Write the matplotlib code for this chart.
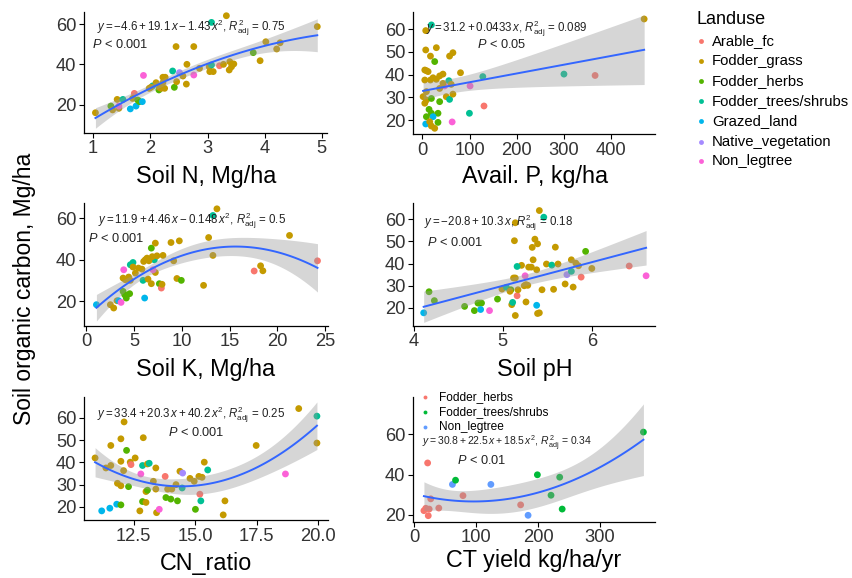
import numpy as np
import matplotlib
matplotlib.use("Agg")
import matplotlib.pyplot as plt
from matplotlib.lines import Line2D

plt.rcParams['font.family'] = ['Liberation Sans', 'DejaVu Sans']
plt.rcParams['mathtext.fontset'] = 'custom'
plt.rcParams['mathtext.rm'] = 'Liberation Sans'
plt.rcParams['mathtext.it'] = 'Liberation Sans:italic'
plt.rcParams['mathtext.bf'] = 'Liberation Sans:bold'

# ---------------- data ----------------
landuse_levels = ["Arable_fc", "Fodder_grass", "Fodder_herbs", "Fodder_trees/shrubs",
                  "Grazed_land", "Native_vegetation", "Non_legtree"]
landuse_codes = ["A", "G", "H", "T", "L", "N", "P"]
landuse_colors = ["#F8766D", "#C49A00", "#53B400", "#00C094", "#00B6EB", "#A58AFF", "#FB61D7"]

ct_levels = ["Fodder_herbs", "Fodder_trees/shrubs", "Non_legtree"]
ct_codes = ["H", "T", "P"]
ct_colors = ["#F8766D", "#00BA38", "#619CFF"]

soilN_x = [1.04, 1.31, 1.34, 1.42, 1.45, 1.45, 1.52, 1.65, 1.72, 1.75, 1.69, 1.78, 1.81, 1.86, 1.88,
           1.98, 2.04, 2.10, 2.15, 2.19, 2.22, 2.26, 2.25, 2.39, 2.42, 2.45, 2.46, 2.51, 2.57, 2.63,
           2.64, 2.76, 2.76, 2.86, 3.07, 3.03, 3.04, 3.10, 3.07, 3.21, 3.28, 3.33, 3.39, 3.38, 3.42,
           3.46, 3.80, 3.92, 4.02, 4.21, 4.27, 4.92, 2.01, 2.16, 2.22]
soilN_y = [16.0, 19.3, 17.4, 22.6, 18.2, 19.3, 22.6, 17.9, 25.6, 19.3, 23.1, 22.3, 21.5, 21.5, 34.5,
           28.1, 29.3, 30.9, 27.3, 28.1, 33.6, 33.6, 28.1, 36.7, 28.6, 48.8, 31.4, 35.9, 34.2, 30.2,
           40.0, 48.8, 34.7, 38.0, 60.8, 38.8, 36.4, 36.4, 39.7, 39.3, 40.0, 64.1, 41.3, 37.2, 38.8,
           40.2, 45.8, 41.8, 51.2, 47.6, 50.7, 58.7, 28.6, 28.6, 30.9]
soilN_lu = list("GHGGGPTLALGHHLPGTGHGGGGTHGGNGGGGPGTGGGTAGGGGGGHGGGGGGGG")

availP_x = [19, 7, 7, 17, 29.5, 26, 57.5, 64.6, 5, 8.4, 12, 80.7, 43.5, 36.5, 22.5, 5, 17, 29.5, 56,
            47, 61, 101, 128, 300, 366, 1.4, 8.4, 19, 36.5, 50.5, 57.5, 64.6, 5, 14, 19, 33, 22.5,
            8.4, 7, 15.4, 33, 19, 26, 63, 99.6, 130.5, 470, 43.5, 36.5, 8.4]
availP_y = [61.8, 59.3, 50.8, 48.1, 51.8, 45.7, 48.1, 49.6, 42.0, 41.7, 41.3, 40.8, 40.2, 39.4, 38.6,
            37.6, 37.6, 37.9, 37.3, 35.0, 35.7, 35.0, 39.1, 40.2, 39.6, 30.3, 28.8, 29.5, 28.1, 30.3,
            29.1, 31.4, 27.4, 24.7, 23.0, 23.0, 21.5, 21.5, 18.3, 19.3, 19.0, 17.4, 16.4, 19.2, 23.0,
            26.2, 64.4, 36.1, 33.9, 32.5]
availP_lu = list("TGGGGHGGGGGGGGGGGGTPGPTTAGGHHGTGGHHHLHLGHGGPTAGGGG")

soilK_x = [1.05, 2.51, 2.86, 3.21, 3.38, 3.63, 3.84, 4.08, 3.91, 3.84, 4.01, 4.18, 4.53, 4.43, 4.60,
           4.60, 4.88, 4.88, 5.13, 5.82, 5.93, 6.00, 6.17, 6.35, 6.45, 6.10, 6.80, 6.80, 7.11, 7.22,
           7.22, 7.39, 6.97, 7.64, 7.85, 7.92, 8.02, 8.86, 9.14, 9.48, 9.73, 9.94, 12.27, 12.80,
           13.25, 13.25, 13.67, 17.57, 18.24, 18.48, 21.27, 24.20, 5.45, 6.55, 6.90]
soilK_y = [18.4, 18.4, 16.8, 20.3, 20.3, 19.5, 31.2, 30.4, 35.2, 24.8, 23.2, 21.6, 23.7, 31.7, 30.1,
           37.6, 38.7, 36.5, 33.6, 35.5, 30.1, 39.2, 40.0, 40.8, 30.7, 21.6, 45.6, 28.5, 40.0, 48.0,
           33.9, 41.9, 35.2, 28.5, 26.4, 28.2, 42.1, 48.3, 39.5, 31.0, 49.1, 30.1, 27.7, 50.7,
           61.3, 42.1, 64.5, 34.6, 37.1, 34.7, 51.7, 39.5, 36.0, 39.5, 41.5]
soilK_lu = list("LGGGLPGGPHHHHGGTTGGGTGGGGLHGTGGGPHAGGGGGGHGGTGGAGGGAGGG")

soilpH_x = [4.11, 4.17, 4.23, 4.57, 4.68, 4.72, 4.74, 4.76, 4.75, 4.85, 4.94, 4.99, 5.04, 5.09, 5.08,
            5.10, 5.11, 5.12, 5.14, 5.14, 5.13, 5.14, 5.16, 5.17, 5.21, 5.16, 5.25, 5.24, 5.26, 5.26,
            5.28, 5.29, 5.32, 5.33, 5.34, 5.36, 5.38, 5.39, 5.41, 5.46, 5.39, 5.41, 5.38, 5.44, 5.49,
            5.55, 5.57, 5.59, 5.62, 5.70, 5.72, 5.77, 5.77, 5.79, 5.82, 5.85, 5.88, 5.93, 6.00, 6.42,
            6.61]
soilpH_y = [17.8, 27.3, 23.3, 20.7, 18.8, 22.2, 22.2, 22.2, 19.3, 18.8, 24.0, 28.5, 29.3, 28.2, 27.5,
            21.5, 22.5, 33.5, 33.5, 58.4, 50.3, 16.6, 25.5, 28.2, 39.2, 38.7, 34.5, 30.0, 30.5, 22.7,
            30.2, 38.4, 38.4, 47.3, 41.7, 51.0, 37.2, 48.9, 63.9, 60.9, 17.5, 17.8, 21.2, 28.2, 39.8,
            39.3, 28.4, 47.4, 39.8, 30.8, 35.0, 41.7, 36.5, 29.4, 40.2, 39.0, 33.9, 45.5, 37.8, 38.9,
            34.5]
soilpH_lu = list("LHHHHHHHLPHGTHGGTGGGGGAGGTPGGGGGGGGGGGGTGGLGGTGGGGNGTGGGAHGAP")

cn_x = [10.93, 11.20, 11.37, 11.53, 11.57, 11.57, 11.81, 11.84, 11.98, 11.98, 11.98, 11.98, 12.09,
        12.11, 12.21, 12.29, 12.36, 12.39, 12.56, 12.75, 12.79, 12.86, 12.89, 12.86, 13.00, 13.00,
        13.06, 13.06, 13.13, 13.30, 13.40, 13.40, 13.43, 13.54, 13.78, 13.81, 13.88, 14.01, 14.05,
        14.22, 14.28, 14.38, 14.47, 14.49, 14.79, 14.96, 15.01, 15.15, 15.19, 15.23, 15.28, 15.37,
        15.51, 16.14, 16.21, 17.48, 18.67, 19.21, 19.95, 19.95]
cn_y = [42.0, 18.2, 37.5, 19.4, 47.6, 38.6, 21.2, 30.6, 50.6, 40.5, 20.9, 29.5, 36.3, 58.2, 45.4,
        29.1, 40.1, 39.0, 42.0, 18.2, 34.8, 38.6, 51.1, 22.4, 22.0, 26.9, 27.5, 39.3, 39.6, 31.5,
        37.5, 28.0, 17.4, 18.9, 33.7, 24.2, 28.0, 23.5, 28.0, 30.0, 22.7, 36.0, 28.5, 35.2, 32.8,
        31.5, 18.9, 33.7, 25.7, 22.7, 33.3, 40.1, 36.6, 16.4, 22.7, 47.6, 34.8, 64.2, 60.8, 48.7]
cn_lu = list("GLGLGGLGGGHGGGHHGAGGPTGHGGHGTGGGGPAHGHGGHGTNGGHGATGGTGGGPGTG")

ct_x = [16, 19, 24.5, 23, 22, 27, 40, 62, 67, 79, 124, 172, 184, 199, 221, 235, 239, 370]
ct_y = [22.0, 23.2, 22.8, 19.5, 45.8, 27.9, 23.3, 35.1, 37.2, 29.5, 35.1, 24.9, 19.7, 39.9, 29.7,
        38.7, 22.8, 61.2]
ct_lu = list("HHHHHHHPTHPHPTTTTT")

W, H = 853, 578


def tq(df):
    z = 1.959964
    return z + (z ** 3 + z) / (4 * df) + (5 * z ** 5 + 16 * z ** 3 + 3 * z) / (96 * df ** 2)


def poly_fit(x, y, deg, xg):
    x = np.asarray(x, float)
    y = np.asarray(y, float)
    X = np.vander(x, deg + 1, increasing=True)
    beta, *_ = np.linalg.lstsq(X, y, rcond=None)
    resid = y - X @ beta
    n, p = X.shape
    s2 = resid @ resid / (n - p)
    XtXi = np.linalg.inv(X.T @ X)
    Xg = np.vander(xg, deg + 1, increasing=True)
    fit = Xg @ beta
    se = np.sqrt(np.einsum('ij,jk,ik->i', Xg, XtXi, Xg) * s2)
    t = tq(n - p)
    return fit, fit - t * se, fit + t * se


fig = plt.figure(figsize=(W / 100, H / 100), dpi=100)


def ftext(px, py, s, **kw):
    return fig.text(px / W, 1 - py / H, s, **kw)


def add_axes_px(l, t, r, b):
    return fig.add_axes([l / W, 1 - b / H, (r - l) / W, (b - t) / H])


panels = [
    dict(x=soilN_x, y=soilN_y, lu=soilN_lu, deg=2, box=(84, 11.7, 327, 132.7),
         xlim=(0.84, 5.09), ylim=(6.1, 66.1), xticks=[1, 2, 3, 4, 5], xtl=None,
         yticks=[20, 40, 60], xlabel="Soil N, Mg/ha", xl=(206, 183),
         eq=r"$y = -4.6 + 19.1\,x - 1.43\,x^2$, $R^2_{\mathrm{adj}}$ = 0.75", eqp=(97, 28),
         pt=r"$P$ < 0.001", ptp=(92, 44)),
    dict(x=availP_x, y=availP_y, lu=availP_lu, deg=1, box=(413, 11.7, 655, 134),
         xlim=(-20, 493), ylim=(13.9, 67.6), xticks=[0, 100, 200, 300, 400], xtl=None,
         yticks=[20, 30, 40, 50, 60], xlabel="Avail. P, kg/ha", xl=(535, 183),
         eq=r"$y = 31.2 + 0.0433\,x$, $R^2_{\mathrm{adj}}$ = 0.089", eqp=(426, 29),
         pt=r"$P$ < 0.05", ptp=(477, 45)),
    dict(x=soilK_x, y=soilK_y, lu=soilK_lu, deg=2, box=(84, 203, 328, 325.7),
         xlim=(-0.25, 25.3), ylim=(8.3, 67.3), xticks=[0, 5, 10, 15, 20, 25], xtl=None,
         yticks=[20, 40, 60], xlabel="Soil K, Mg/ha", xl=(206, 376),
         eq=r"$y = 11.9 + 4.46\,x - 0.148\,x^2$, $R^2_{\mathrm{adj}}$ = 0.5", eqp=(98, 221),
         pt=r"$P$ < 0.001", ptp=(88, 238.5)),
    dict(x=soilpH_x, y=soilpH_y, lu=soilpH_lu, deg=1, box=(413, 203, 655, 325.7),
         xlim=(3.99, 6.71), ylim=(12.0, 67.3), xticks=[4, 5, 6], xtl=None,
         yticks=[20, 30, 40, 50, 60], xlabel="Soil pH", xl=(535, 376),
         eq=r"$y = -20.8 + 10.3\,x$, $R^2_{\mathrm{adj}}$ = 0.18", eqp=(424, 223),
         pt=r"$P$ < 0.001", ptp=(427, 242)),
    dict(x=cn_x, y=cn_y, lu=cn_lu, deg=2, box=(84, 397, 328, 520),
         xlim=(10.48, 20.4), ylim=(14.1, 69.4), xticks=[12.5, 15.0, 17.5, 20.0],
         xtl=["12.5", "15.0", "17.5", "20.0"],
         yticks=[20, 30, 40, 50, 60], xlabel="CN_ratio", xl=(206, 570),
         eq=r"$y = 33.4 + 20.3\,x + 40.2\,x^2$, $R^2_{\mathrm{adj}}$ = 0.25", eqp=(97, 415),
         pt=r"$P$ < 0.001", ptp=(168, 432)),
    dict(x=ct_x, y=ct_y, lu=ct_lu, deg=2, box=(413, 397, 655, 521.7),
         xlim=(-1.6, 388.7), ylim=(16.5, 78.7), xticks=[0, 100, 200, 300], xtl=None,
         yticks=[20, 40, 60], xlabel="CT yield kg/ha/yr", xl=(534, 567),
         eq=r"$y = 30.8 + 22.5\,x + 18.5\,x^2$, $R^2_{\mathrm{adj}}$ = 0.34", eqp=(422, 443),
         pt=r"$P$ < 0.01", ptp=(457, 460), ct=True),
]

tick_color = "#333333"
for pn in panels:
    ax = add_axes_px(*pn['box'])
    if pn.get('ct'):
        cmap = dict(zip(ct_codes, ct_colors))
    else:
        cmap = dict(zip(landuse_codes, landuse_colors))
    cols = [cmap[c] for c in pn['lu']]
    ax.scatter(pn['x'], pn['y'], c=cols, s=24, linewidths=0, zorder=2, clip_on=False)
    xg = np.linspace(min(pn['x']), max(pn['x']), 80)
    fit, lo, hi = poly_fit(pn['x'], pn['y'], pn['deg'], xg)
    ax.fill_between(xg, lo, hi, color="#999999", alpha=0.4, lw=0, zorder=3)
    ax.plot(xg, fit, color="#3366FF", lw=1.4, zorder=4)
    ax.set_xlim(*pn['xlim'])
    ax.set_ylim(*pn['ylim'])
    ax.set_xticks(pn['xticks'])
    if pn['xtl']:
        ax.set_xticklabels(pn['xtl'])
    ax.set_yticks(pn['yticks'])
    for s in ['top', 'right']:
        ax.spines[s].set_visible(False)
    for s in ['left', 'bottom']:
        ax.spines[s].set_linewidth(0.9)
    ax.tick_params(direction='out', length=3.5, width=0.8, labelsize=13.2,
                   labelcolor=tick_color, pad=2)
    ax.set_facecolor('none')
    ftext(pn['xl'][0], pn['xl'][1], pn['xlabel'], fontsize=16.8, ha='center', va='baseline')
    eqsize = 7.5 if pn.get('ct') else 8.3
    ftext(pn['eqp'][0], pn['eqp'][1], pn['eq'], fontsize=eqsize, ha='left', va='center',
          color="#222222", zorder=6)
    ftext(pn['ptp'][0], pn['ptp'][1], pn['pt'], fontsize=9.2, ha='left', va='center',
          color="#222222", zorder=6)

# y label
ftext(25, 289, "Soil organic carbon, Mg/ha", fontsize=16.5, rotation=90, ha='center', va='center')

# main legend
ftext(697, 19, "Landuse", fontsize=13, ha='left', va='center')
leg_y = [41, 61, 81, 101, 121, 142, 161]
for name, col, yy in zip(landuse_levels, landuse_colors, leg_y):
    fig.add_artist(Line2D([701 / W], [1 - yy / H], transform=fig.transFigure, marker='o',
                          ms=3.5, color=col, ls='', mew=0))
    ftext(712, yy, name, fontsize=10.7, ha='left', va='center')

# inset legend (CT yield panel)
ct_leg_y = [397, 412, 427]
for name, col, yy in zip(ct_levels, ct_colors, ct_leg_y):
    fig.add_artist(Line2D([425 / W], [1 - yy / H], transform=fig.transFigure, marker='o',
                          ms=2.8, color=col, ls='', mew=0))
    ftext(439, yy, name, fontsize=8.6, ha='left', va='center')

fig.savefig("out.png", dpi=100)
